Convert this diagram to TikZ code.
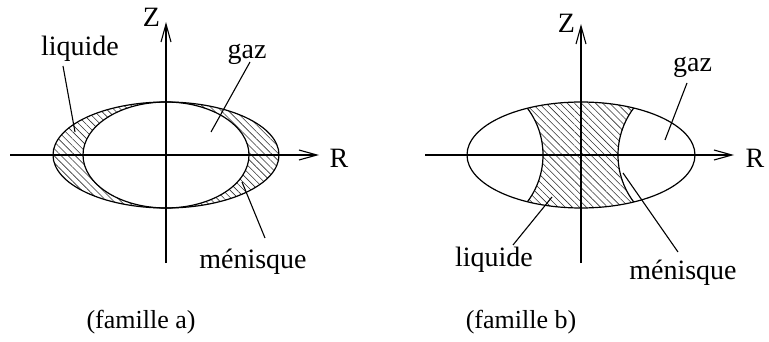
\documentclass[tikz,border=0pt]{standalone}
\usepackage{fontspec}
\setmainfont{Liberation Serif}
\usetikzlibrary{arrows.meta,patterns.meta}
\begin{document}
\begin{tikzpicture}[x=1pt,y=-1pt,
  line width=1.2pt,
  axis/.style={-{Straight Barb[length=18pt,width=10pt,line width=1.1pt]}},
  hatch/.style={pattern={Lines[angle=-45,distance=5pt,line width=0.6pt]},pattern color=black!80},
  lbl/.style={anchor=base,inner sep=0pt,font=\fontsize{28}{32}\selectfont},
  captext/.style={anchor=base,inner sep=0pt,font=\fontsize{26}{30}\selectfont},
  leader/.style={line width=1.1pt}]
\useasboundingbox (0,0) rectangle (769,342);
% ---------- famille a ----------
\fill[hatch,even odd rule] (166,155) ellipse [x radius=113, y radius=53]
  (166,155) ellipse [x radius=83, y radius=53];
\draw (166,155) ellipse [x radius=113, y radius=53];
\draw (166,155) ellipse [x radius=83, y radius=53];
\coordinate (za0) at (166,263);
\coordinate (za1) at (166,22);
\coordinate (ra0) at (10,155);
\coordinate (ra1) at (319,155);
\draw[axis] (za0) -- (za1);
\draw[axis] (ra0) -- (ra1);
\node[lbl] (Za) at (151.5,27) {Z};
\node[lbl] (Ra) at (339,168) {R};
\node[lbl] (liqa) at (80,56) {liquide};
\node[lbl] (gaza) at (247,59) {gaz};
\node[lbl] (mena) at (253,269) {ménisque};
\node[captext] (capa) at (141,328) {(famille a)};
\coordinate (liqa1) at (63,66);
\coordinate (liqa2) at (75,132);
\coordinate (gaza1) at (250,62);
\coordinate (gaza2) at (211,132);
\coordinate (mena1) at (265,238);
\coordinate (mena2) at (242,182);
\draw[leader] (liqa1) -- (liqa2);
\draw[leader] (gaza1) -- (gaza2);
\draw[leader] (mena1) -- (mena2);
% ---------- famille b ----------
\begin{scope}
  \clip (581,155) ellipse [x radius=114, y radius=53];
  \fill[hatch,even odd rule] (380,80) rectangle (800,230)
    (465,155) circle [radius=78] (696,155) circle [radius=78];
  \draw (465,155) circle [radius=78];
  \draw (696,155) circle [radius=78];
\end{scope}
\draw (581,155) ellipse [x radius=114, y radius=53];
\coordinate (zb0) at (581,263);
\coordinate (zb1) at (581,24);
\coordinate (rb0) at (425,155);
\coordinate (rb1) at (734,155);
\draw[axis] (zb0) -- (zb1);
\draw[axis] (rb0) -- (rb1);
\node[lbl] (Zb) at (566.5,33) {Z};
\node[lbl] (Rb) at (755,168) {R};
\node[lbl] (gazb) at (692.5,72) {gaz};
\node[lbl] (liqb) at (494,266) {liquide};
\node[lbl] (menb) at (683,279) {ménisque};
\node[captext] (capb) at (521,328) {(famille b)};
\coordinate (gazb1) at (687,83);
\coordinate (gazb2) at (665,140);
\coordinate (liqb1) at (513,245);
\coordinate (liqb2) at (552,197);
\coordinate (menb1) at (678,252);
\coordinate (menb2) at (623,173);
\draw[leader] (gazb1) -- (gazb2);
\draw[leader] (liqb1) -- (liqb2);
\draw[leader] (menb1) -- (menb2);
\end{tikzpicture}
\end{document}
